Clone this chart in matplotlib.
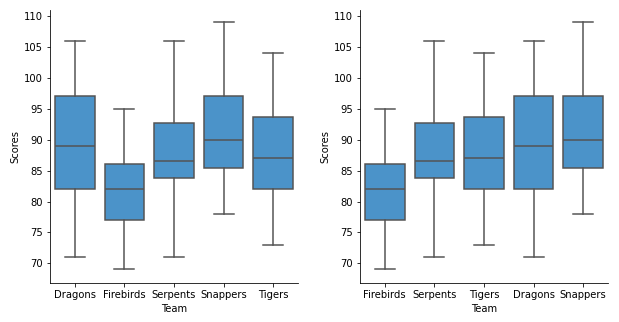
import matplotlib
matplotlib.use("Agg")
import matplotlib.pyplot as plt

teams = ["Dragons", "Firebirds", "Serpents", "Snappers", "Tigers"]
whisker_low = [71, 69, 71, 78, 73]
q1 = [82, 77, 83.8, 85.5, 82]
medians = [89, 82, 86.6, 90, 87.1]
q3 = [97.1, 86.1, 92.7, 97.1, 93.6]
whisker_high = [106, 95, 106, 109, 104]

BOX_COLOR = "#4b93c9"
LINE_COLOR = "#535353"


def team_stats(order):
    stats = []
    for name in order:
        i = teams.index(name)
        stats.append({"label": name, "whislo": whisker_low[i], "q1": q1[i],
                      "med": medians[i], "q3": q3[i], "whishi": whisker_high[i],
                      "fliers": []})
    return stats


def draw(ax, order):
    line = dict(color=LINE_COLOR, linewidth=1.5)
    ax.bxp(team_stats(order), positions=range(len(order)), widths=0.8,
           patch_artist=True, showfliers=False,
           boxprops=dict(facecolor=BOX_COLOR, edgecolor=LINE_COLOR, linewidth=1.5),
           medianprops=line, whiskerprops=line, capprops=line)
    ax.set_xlim(-0.5, len(order) - 0.5)
    ax.set_ylim(66.86, 111.0)
    ax.set_xlabel("Team")
    ax.set_ylabel("Scores")
    ax.spines["top"].set_visible(False)
    ax.spines["right"].set_visible(False)


fig = plt.figure(figsize=(619 / 72, 322 / 72), dpi=72)
ax1 = fig.add_axes([0.0808, 0.122, 0.4006, 0.847])
ax2 = fig.add_axes([0.5816, 0.122, 0.4006, 0.847])

draw(ax1, teams)
by_median = [t for _, t in sorted(zip(medians, teams))]
draw(ax2, by_median)

fig.savefig("out.png", dpi=72)
